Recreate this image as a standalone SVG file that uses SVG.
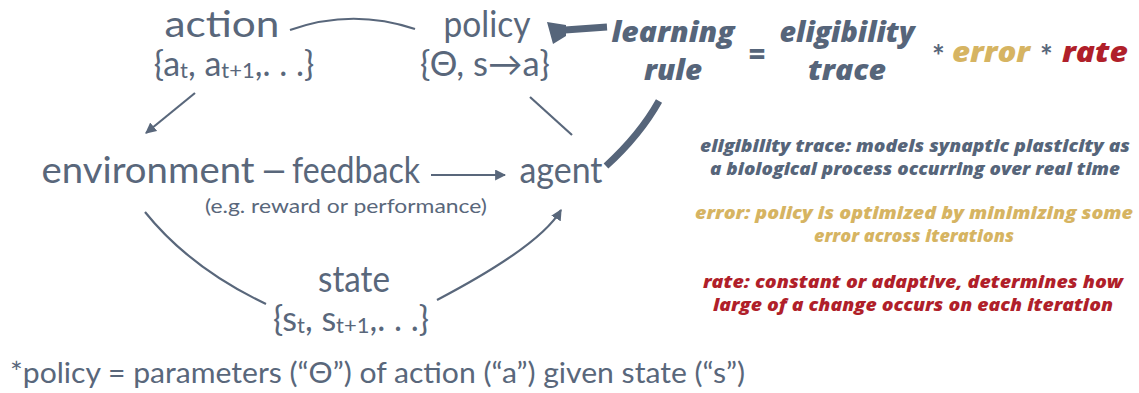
<svg xmlns="http://www.w3.org/2000/svg" width="1139" height="393" viewBox="0 0 1139 393">
  <style>
    .lbl { font-family: Lato, "Open Sans", sans-serif; fill: #59677b; }
    .big { font-size: 37px; }
    .set { font-size: 34px; }
    .note { font-size: 20px; }
    .foot { font-size: 29px; }
    .rule { font-family: "Open Sans", Lato, sans-serif; font-weight: 800; font-style: italic; font-size: 29px; }
    .desc { font-family: "Open Sans", Lato, sans-serif; font-weight: 800; font-style: italic; font-size: 18px; text-anchor: middle; }
    .slate { fill: #56657a; }
    .gold { fill: #d6b462; }
    .red { fill: #b01f2a; }
    .edge { fill: none; stroke: #59677b; stroke-width: 2.2; }
    .thick { fill: none; stroke: #56657a; stroke-width: 7; }
  </style>
  <defs>
    <marker id="arrow" viewBox="0 0 10 10" refX="9" refY="5" markerWidth="5" markerHeight="5" orient="auto">
      <path d="M0,0 L10,5 L0,10 Z" fill="#59677b"/>
    </marker>
  </defs>

  <!-- connectors -->
  <g id="connectors">
    <path class="edge" d="M290,30 Q352,8 415,29"/>
    <path class="edge" d="M195,93 L146,133" marker-end="url(#arrow)"/>
    <path class="edge" d="M530,97 L572,135"/>
    <path class="edge" d="M431,175 L505,175" marker-end="url(#arrow)"/>
    <path class="edge" d="M145,212 Q190,268 266,304"/>
    <path class="edge" d="M437,300 Q540,246 561,210" marker-end="url(#arrow)"/>
    <!-- learning rule feedback onto policy -->
    <path class="thick" d="M606,166 Q640,135 659,101"/>
    <path class="thick" d="M607,27 L565,30"/>
    <path d="M547,22 L566,25 L566,36 L553,44 Z" fill="#56657a"/>
  </g>

  <g id="action">
    <text class="lbl big" x="222" y="37" text-anchor="middle" textLength="115" lengthAdjust="spacingAndGlyphs">action</text>
    <text class="lbl set" x="234" y="76" text-anchor="middle">{a<tspan font-size="22" dy="2">t</tspan><tspan dy="-2">, a</tspan><tspan font-size="22" dy="2">t+1</tspan><tspan dy="-2">,. . .}</tspan></text>
  </g>

  <g id="policy">
    <text class="lbl big" x="487" y="37" text-anchor="middle" textLength="87" lengthAdjust="spacingAndGlyphs">policy</text>
    <text class="lbl set" x="485" y="76" text-anchor="middle" textLength="130" lengthAdjust="spacingAndGlyphs">{Θ, s→a}</text>
  </g>

  <g id="environment">
    <text class="lbl big" x="148" y="183" text-anchor="middle" textLength="213" lengthAdjust="spacingAndGlyphs">environment</text>
  </g>

  <g id="feedback">
    <text class="lbl big" x="262" y="183" textLength="24" lengthAdjust="spacingAndGlyphs">—</text>
    <text class="lbl big" x="292" y="183" textLength="128" lengthAdjust="spacingAndGlyphs">feedback</text>
    <text class="lbl note" x="346" y="213" text-anchor="middle" textLength="282" lengthAdjust="spacingAndGlyphs">(e.g. reward or performance)</text>
  </g>

  <g id="agent">
    <text class="lbl big" x="561" y="183" text-anchor="middle" textLength="83" lengthAdjust="spacingAndGlyphs">agent</text>
  </g>

  <g id="state">
    <text class="lbl big" x="354" y="292" text-anchor="middle" textLength="72" lengthAdjust="spacingAndGlyphs">state</text>
    <text class="lbl set" x="351" y="331" text-anchor="middle">{s<tspan font-size="22" dy="2">t</tspan><tspan dy="-2">, s</tspan><tspan font-size="22" dy="2">t+1</tspan><tspan dy="-2">,. . .}</tspan></text>
  </g>

  <g id="learning-rule">
    <text class="rule slate" x="673" y="42" text-anchor="middle" textLength="123" lengthAdjust="spacingAndGlyphs">learning</text>
    <text class="rule slate" x="673" y="80" text-anchor="middle" textLength="58" lengthAdjust="spacingAndGlyphs">rule</text>
    <text class="rule slate" x="757" y="64" text-anchor="middle">=</text>
    <text class="rule slate" x="847" y="42" text-anchor="middle" textLength="135" lengthAdjust="spacingAndGlyphs">eligibility</text>
    <text class="rule slate" x="847" y="80" text-anchor="middle" textLength="78" lengthAdjust="spacingAndGlyphs">trace</text>
    <text class="lbl" x="932" y="67" font-size="30" font-weight="700" fill="#56657a">*</text>
    <text class="rule gold" x="991" y="62" text-anchor="middle" textLength="78" lengthAdjust="spacingAndGlyphs">error</text>
    <text class="lbl" x="1040" y="67" font-size="30" font-weight="700" fill="#56657a">*</text>
    <text class="rule red" x="1095" y="62" text-anchor="middle" textLength="66" lengthAdjust="spacingAndGlyphs">rate</text>
  </g>

  <g id="definitions">
    <text class="desc slate" x="915" y="152" textLength="430" lengthAdjust="spacingAndGlyphs">eligibility trace: models synaptic plasticity as</text>
    <text class="desc slate" x="915" y="175" textLength="410" lengthAdjust="spacingAndGlyphs">a biological process occurring over real time</text>
    <text class="desc gold" x="914" y="219" textLength="438" lengthAdjust="spacingAndGlyphs">error: policy is optimized by minimizing some</text>
    <text class="desc gold" x="914" y="242" textLength="200" lengthAdjust="spacingAndGlyphs">error across iterations</text>
    <text class="desc red" x="913" y="288" textLength="420" lengthAdjust="spacingAndGlyphs">rate: constant or adaptive, determines how</text>
    <text class="desc red" x="913" y="311" textLength="400" lengthAdjust="spacingAndGlyphs">large of a change occurs on each iteration</text>
  </g>

  <g id="footnote">
    <text class="lbl foot" x="10" y="383" textLength="735" lengthAdjust="spacingAndGlyphs">*policy = parameters (“Θ”) of action (“a”) given state (“s”)</text>
  </g>
</svg>
